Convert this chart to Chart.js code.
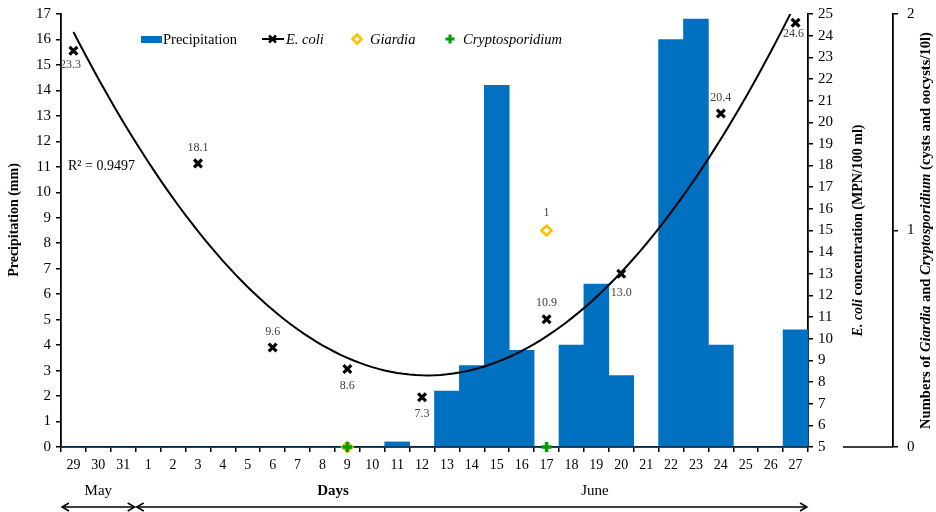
<!DOCTYPE html>
<html>
<head>
<meta charset="utf-8">
<script src="https://cdn.jsdelivr.net/npm/chart.js@4/dist/chart.umd.min.js"></script>
<style>
  html, body { margin: 0; padding: 0; background: #fff; }
  #wrap { width: 936px; height: 512px; }
</style>
</head>
<body>
<div id="wrap"><canvas id="c" width="936" height="512"></canvas></div>
<script>
// Sampling days: 29–31 May, then 1–27 June
const days = ['29','30','31','1','2','3','4','5','6','7','8','9','10','11','12','13','14',
              '15','16','17','18','19','20','21','22','23','24','25','26','27'];

// Daily precipitation (mm)
const precipitation = [0,0,0, 0,0,0,0,0,0,0,0,0,0, 0.2,0, 2.2,3.2,14.2,3.8,0,4.0,6.4,2.8,0,
                       16.0,16.8,4.0,0,0,4.6];

// E. coli concentration (MPN/100 ml) on sampling days
const ecoliDays   = ['29','3','6','9','12','17','20','24','27'];
const ecoliValues = [23.3, 18.1, 9.6, 8.6, 7.3, 10.9, 13.0, 20.4, 24.6];

// Giardia cysts and Cryptosporidium oocysts (per 10 l)
const protozoaDays    = ['9','17'];
const giardiaValues   = [0, 1];
const cryptoValues    = [0, 0];

const rSquaredText = 'R\u00B2 = 0.9497';

const SERIF = '"Liberation Serif", "Times New Roman", serif';

// Second-order polynomial (least squares) trend of E. coli against day position
function quadraticTrend(xs, ys) {
  const S = [0,0,0,0,0], T = [0,0,0];
  xs.forEach((x, i) => {
    for (let k = 0; k < 5; k++) S[k] += Math.pow(x, k);
    for (let k = 0; k < 3; k++) T[k] += Math.pow(x, k) * ys[i];
  });
  const A = [[S[0],S[1],S[2],T[0]],[S[1],S[2],S[3],T[1]],[S[2],S[3],S[4],T[2]]];
  for (let c = 0; c < 3; c++) {
    for (let r = c + 1; r < 3; r++) {
      const f = A[r][c] / A[c][c];
      for (let k = c; k < 4; k++) A[r][k] -= f * A[c][k];
    }
  }
  const coef = [0,0,0];
  for (let r = 2; r >= 0; r--) {
    let s = A[r][3];
    for (let k = r + 1; k < 3; k++) s -= A[r][k] * coef[k];
    coef[r] = s / A[r][r];
  }
  return coef;
}
const ecoliPos = ecoliDays.map(d => days.indexOf(d));
const trendCoef = quadraticTrend(ecoliPos, ecoliValues);
const trendPoints = [];
for (let x = 0; x <= days.length - 1 + 1e-9; x += 0.25) {
  trendPoints.push({ x, y: trendCoef[0] + trendCoef[1] * x + trendCoef[2] * x * x });
}

// Placement of value labels around the E. coli markers
const ecoliLabelPlace = { '29': ['below', -3, 14], '3': ['above', 0, -16], '6': ['above', 0, -16],
  '9': ['below', 0, 17], '12': ['below', 0, 17], '17': ['above', 0, -16],
  '20': ['below', 0, 19], '24': ['above', 0, -16], '27': ['below', -2, 11] };

function drawRich(ctx, segs, x, y, angle) {
  ctx.save();
  ctx.translate(x, y);
  ctx.rotate(angle);
  let total = 0;
  segs.forEach(s => { ctx.font = s.font; s.w = ctx.measureText(s.t).width; total += s.w; });
  let cx = -total / 2;
  ctx.textBaseline = 'middle';
  ctx.textAlign = 'left';
  ctx.fillStyle = '#000';
  segs.forEach(s => { ctx.font = s.font; ctx.fillText(s.t, cx, 0); cx += s.w; });
  ctx.restore();
}

function arrowHead(ctx, x, y, dir) {
  ctx.beginPath();
  ctx.moveTo(x + dir * 7, y - 4);
  ctx.lineTo(x, y);
  ctx.lineTo(x + dir * 7, y + 4);
  ctx.stroke();
}

// Vertical axes sit flush with the plot's top edge
function fitVertical(width) {
  return function (s) { s.width = width; s.paddingTop = 0; s.paddingBottom = 0; };
}

const decorations = {
  id: 'decorations',
  afterDatasetsDraw(chart) {
    const ctx = chart.ctx;
    ctx.save();
    ctx.font = '12px ' + SERIF;
    ctx.fillStyle = '#404040';
    ctx.textAlign = 'center';
    ctx.textBaseline = 'middle';
    // E. coli value labels
    const em = chart.getDatasetMeta(1);
    em.data.forEach((pt, i) => {
      const p = ecoliLabelPlace[ecoliDays[i]] || ['above', 0, -16];
      ctx.fillText(ecoliValues[i].toFixed(1), pt.x + p[1], pt.y + p[2]);
    });
    // Giardia non-zero count label
    const gm = chart.getDatasetMeta(2);
    gm.data.forEach((pt, i) => {
      if (giardiaValues[i] > 0) ctx.fillText(String(giardiaValues[i]), pt.x, pt.y - 18);
    });
    ctx.restore();
  },
  afterDraw(chart) {
    const ctx = chart.ctx;
    const ca = chart.chartArea;
    const xs = chart.scales.x;
    const midY = (ca.top + ca.bottom) / 2;
    ctx.save();

    // R² of the trend
    ctx.font = '14px ' + SERIF;
    ctx.fillStyle = '#000';
    ctx.textAlign = 'left';
    ctx.textBaseline = 'middle';
    ctx.fillText(rSquaredText, 68, 166);

    // Legend
    const ly = 39;
    ctx.fillStyle = '#0070C0';
    ctx.fillRect(141, ly - 3, 21, 7);
    ctx.fillStyle = '#000';
    ctx.font = '14.5px ' + SERIF;
    ctx.fillText('Precipitation', 163, ly + 1);
    ctx.strokeStyle = '#000';
    ctx.lineWidth = 2;
    ctx.beginPath(); ctx.moveTo(262, ly); ctx.lineTo(284, ly); ctx.stroke();
    ctx.lineWidth = 2.5;
    ctx.beginPath();
    ctx.moveTo(269, ly - 3.5); ctx.lineTo(276, ly + 3.5);
    ctx.moveTo(276, ly - 3.5); ctx.lineTo(269, ly + 3.5);
    ctx.stroke();
    ctx.font = 'italic 14.5px ' + SERIF;
    ctx.fillText('E. coli', 286, ly + 1);
    ctx.strokeStyle = '#FFC000';
    ctx.lineWidth = 2.5;
    ctx.beginPath();
    ctx.moveTo(357, ly - 4.5); ctx.lineTo(361.5, ly); ctx.lineTo(357, ly + 4.5); ctx.lineTo(352.5, ly); ctx.closePath();
    ctx.stroke();
    ctx.fillText('Giardia', 370, ly + 1);
    ctx.strokeStyle = '#009E00';
    ctx.lineWidth = 3;
    ctx.beginPath();
    ctx.moveTo(450, ly - 4.5); ctx.lineTo(450, ly + 4.5);
    ctx.moveTo(445.5, ly); ctx.lineTo(454.5, ly);
    ctx.stroke();
    ctx.fillText('Cryptosporidium', 463, ly + 1);

    // Axis titles
    drawRich(ctx, [{ t: 'Precipitation (mm)', font: 'bold 14px ' + SERIF }], 14, 220, -Math.PI / 2);
    drawRich(ctx, [
      { t: 'E. coli', font: 'bold italic 14px ' + SERIF },
      { t: ' concentration (MPN/100 ml)', font: 'bold 14px ' + SERIF }
    ], 858, midY, -Math.PI / 2);
    drawRich(ctx, [
      { t: 'Numbers of ', font: 'bold 14.6px ' + SERIF },
      { t: 'Giardia', font: 'bold italic 14.6px ' + SERIF },
      { t: ' and ', font: 'bold 14.6px ' + SERIF },
      { t: 'Cryptosporidium', font: 'bold italic 14.6px ' + SERIF },
      { t: ' (cysts and oocysts/10l)', font: 'bold 14.6px ' + SERIF }
    ], 926, midY, -Math.PI / 2);

    // Base line of the protozoa axis
    const yg = chart.scales.yG;
    ctx.strokeStyle = '#000';
    ctx.lineWidth = 1.5;
    ctx.beginPath();
    ctx.moveTo(843, yg.getPixelForValue(0));
    ctx.lineTo(yg.left, yg.getPixelForValue(0));
    ctx.stroke();

    // Month labels and range arrows
    const half = (xs.getPixelForValue(1) - xs.getPixelForValue(0)) / 2;
    const mayStart = xs.getPixelForValue(0) - half;
    const mayEnd = xs.getPixelForValue(days.indexOf('31')) + half;
    const juneEnd = xs.getPixelForValue(days.length - 1) + half;
    ctx.fillStyle = '#000';
    ctx.textAlign = 'center';
    ctx.font = '15px ' + SERIF;
    ctx.fillText('May', (mayStart + mayEnd) / 2, 491);
    ctx.fillText('June', 595, 491);
    ctx.font = 'bold 15px ' + SERIF;
    ctx.fillText('Days', 333, 491);

    const ay = 507;
    ctx.lineWidth = 1.5;
    ctx.beginPath(); ctx.moveTo(mayStart + 1, ay); ctx.lineTo(mayEnd - 1, ay); ctx.stroke();
    arrowHead(ctx, mayStart + 1, ay, 1);
    arrowHead(ctx, mayEnd - 1, ay, -1);
    ctx.beginPath(); ctx.moveTo(mayEnd + 1, ay); ctx.lineTo(juneEnd - 1, ay); ctx.stroke();
    arrowHead(ctx, mayEnd + 1, ay, 1);
    arrowHead(ctx, juneEnd - 1, ay, -1);
    ctx.restore();
  }
};

const tickFont = { family: SERIF, size: 15 };

new Chart(document.getElementById('c'), {
  type: 'bar',
  data: {
    labels: days,
    datasets: [
      {
        type: 'bar',
        label: 'Precipitation',
        data: precipitation,
        xAxisID: 'x',
        yAxisID: 'y',
        backgroundColor: '#0070C0',
        borderWidth: 0,
        grouped: false,
        barPercentage: 1.0,
        categoryPercentage: 1.0,
        order: 5
      },
      {
        type: 'line',
        label: 'E. coli',
        data: ecoliDays.map((d, i) => ({ x: d, y: ecoliValues[i] })),
        xAxisID: 'x',
        yAxisID: 'yE',
        showLine: false,
        pointStyle: 'crossRot',
        pointRadius: 5.5,
        pointBorderWidth: 3.2,
        borderColor: '#000',
        backgroundColor: '#000',
        clip: false,
        order: 2
      },
      {
        type: 'line',
        label: 'Giardia',
        data: protozoaDays.map((d, i) => ({ x: d, y: giardiaValues[i] })),
        xAxisID: 'x',
        yAxisID: 'yG',
        showLine: false,
        pointStyle: 'rectRot',
        pointRadius: 5,
        pointBorderWidth: 2.6,
        borderColor: '#FFC000',
        backgroundColor: '#ffffff',
        clip: false,
        order: 1
      },
      {
        type: 'line',
        label: 'Cryptosporidium',
        data: protozoaDays.map((d, i) => ({ x: d, y: cryptoValues[i] })),
        xAxisID: 'x',
        yAxisID: 'yG',
        showLine: false,
        pointStyle: 'cross',
        pointRadius: 5,
        pointBorderWidth: 3.5,
        borderColor: '#009E00',
        backgroundColor: '#009E00',
        clip: false,
        order: 0
      },
      {
        type: 'line',
        label: 'Trend',
        data: trendPoints,
        xAxisID: 'xLin',
        yAxisID: 'yE',
        borderColor: '#000',
        borderWidth: 2,
        pointRadius: 0,
        tension: 0,
        fill: false,
        order: 3
      }
    ]
  },
  options: {
    responsive: false,
    animation: false,
    devicePixelRatio: 1,
    layout: { padding: { top: 14, left: 0, right: 0, bottom: 0 } },
    plugins: { legend: { display: false }, tooltip: { enabled: false } },
    scales: {
      x: {
        type: 'category',
        position: 'bottom',
        offset: true,
        grid: { offset: true, drawOnChartArea: false, drawTicks: true, tickLength: 5, color: '#000', lineWidth: 1.5 },
        border: { color: '#000', width: 1.8 },
        ticks: { font: { family: SERIF, size: 14 }, color: '#000', padding: 5, maxRotation: 0, autoSkip: false },
        afterFit(s) { s.height = 65; s.paddingLeft = 0; s.paddingRight = 0; }
      },
      xLin: {
        type: 'linear',
        display: false,
        offset: false,
        bounds: 'ticks',
        min: -0.5,
        max: days.length - 0.5
      },
      y: {
        position: 'left',
        min: 0, max: 17,
        ticks: { stepSize: 1, font: tickFont, color: '#000', padding: 5 },
        grid: { drawOnChartArea: false, tickLength: 5, color: '#000', lineWidth: 1.5 },
        border: { color: '#000', width: 1.8 },
        afterFit: fitVertical(61)
      },
      yE: {
        position: 'right',
        weight: 0,
        min: 5, max: 25,
        ticks: { stepSize: 1, font: tickFont, color: '#000', padding: 5 },
        grid: { drawOnChartArea: false, tickLength: 5, color: '#000', lineWidth: 1.5 },
        border: { color: '#000', width: 1.8 },
        afterFit: fitVertical(85)
      },
      yG: {
        position: 'right',
        weight: 1,
        min: 0, max: 2,
        ticks: { stepSize: 1, font: tickFont, color: '#000', padding: 9 },
        grid: { drawOnChartArea: false, tickLength: 5, color: '#000', lineWidth: 1.5 },
        border: { color: '#000', width: 1.8 },
        afterFit: fitVertical(43)
      }
    }
  },
  plugins: [decorations]
});
</script>
</body>
</html>
